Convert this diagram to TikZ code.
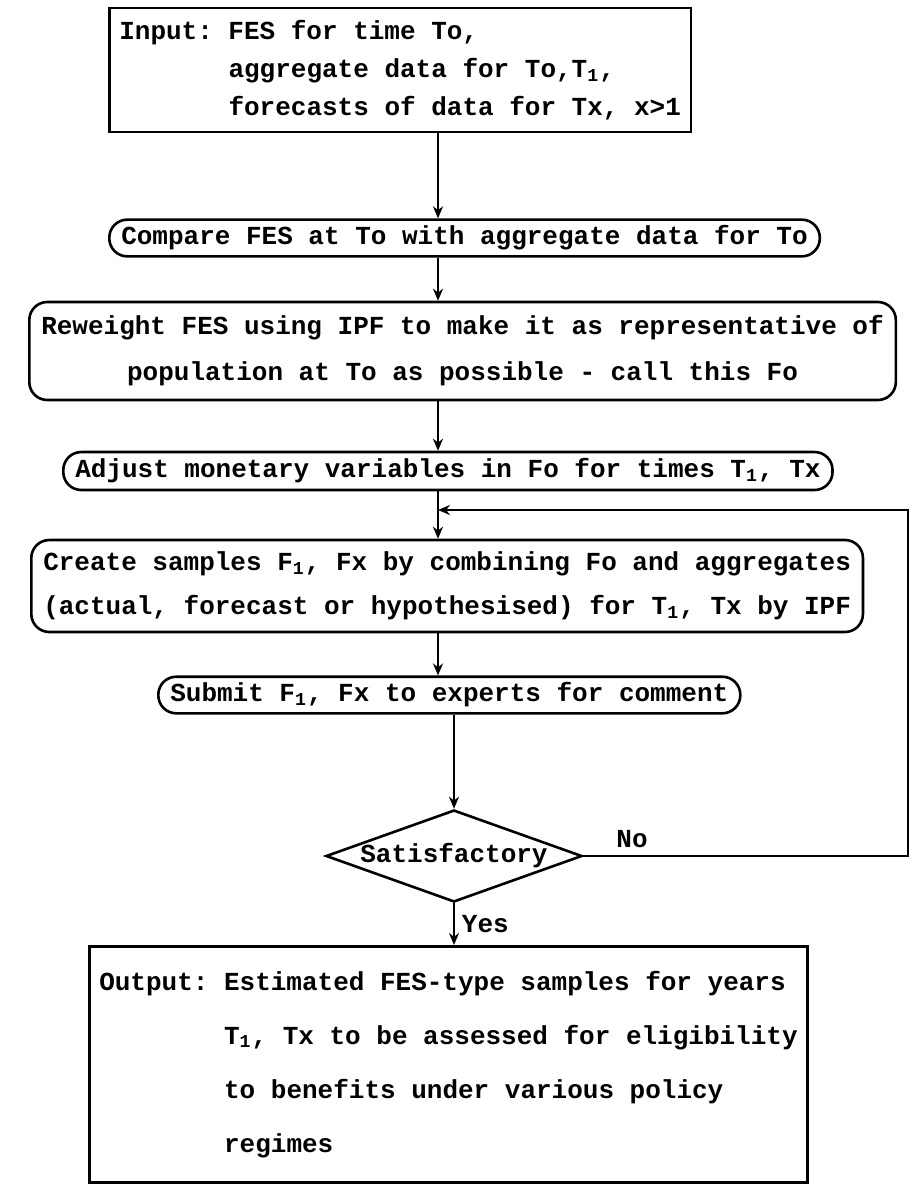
\documentclass[tikz,border=0pt]{standalone}
\usepackage{fontspec}
\setmonofont{Liberation Mono}
\usetikzlibrary{shapes.geometric,arrows.meta}

\tikzset{
  every node/.style={font=\ttfamily\bfseries\fontsize{13}{19}\selectfont},
  sqbox/.style={draw, line width=1.3pt, align=left, inner xsep=5pt, inner ysep=6pt},
  rdbox/.style={draw, line width=1.3pt, rounded corners=9pt, inner xsep=6pt, inner ysep=3pt, anchor=west},
  decision/.style={draw, diamond, aspect=2.8, line width=1.3pt, inner sep=0pt, minimum width=128pt, minimum height=46pt},
  flow/.style={line width=1.3pt, -{Stealth[length=6pt,width=5pt]}},
}

\begin{document}
\begin{tikzpicture}[x=0.5pt,y=-0.5pt]
  \useasboundingbox (0,0) rectangle (909,1191);

  \node[sqbox, anchor=west, minimum height=58pt] (input) at (108,70)
    {Input: FES for time To,\\
     \hphantom{Input: }aggregate data for To,T\textsubscript{1},\\
     \hphantom{Input: }forecasts of data for Tx, x>1};
  \node[rdbox, minimum height=18pt] (compare) at (108,238)
    {Compare FES at To with aggregate data for To};
  \node[rdbox, align=center, minimum height=49pt] (reweight) at (28,351)
    {Reweight FES using IPF to make it as representative of\\[4pt]
     population at To as possible - call this Fo};
  \node[rdbox, minimum height=19pt] (adjust) at (62,471)
    {Adjust monetary variables in Fo for times T\textsubscript{1}, Tx};
  \node[rdbox, align=left, minimum height=46pt] (create) at (30,586)
    {Create samples F\textsubscript{1}, Fx by combining Fo and aggregates\\[3pt]
     (actual, forecast or hypothesised) for T\textsubscript{1}, Tx by IPF};
  \node[rdbox, minimum height=18pt] (submit) at (157,695)
    {Submit F\textsubscript{1}, Fx to experts for comment};
  \node[decision] (sat) at (454,856) {Satisfactory};
  \node[sqbox, anchor=north west, minimum height=118pt] (output) at (88,945)
    {Output: Estimated FES-type samples for years\\[8pt]
     \hphantom{Output: }T\textsubscript{1}, Tx to be assessed for eligibility\\[8pt]
     \hphantom{Output: }to benefits under various policy\\[8pt]
     \hphantom{Output: }regimes};

  \coordinate (axis) at (438,0);
  \coordinate (join) at (438,510);
  \coordinate (back) at (908,510);

  \draw[flow] (input.south -| axis) -- (compare.north -| axis);
  \draw[flow] (compare.south -| axis) -- (reweight.north -| axis);
  \draw[flow] (reweight.south -| axis) -- (adjust.north -| axis);
  \draw[flow] (adjust.south -| axis) -- (create.north -| axis);
  \draw[flow] (create.south -| axis) -- (submit.north -| axis);
  \draw[flow] (submit.south -| sat.north) -- (sat.north);
  \draw[flow] (sat.south) -- node[right] {Yes} (output.north -| sat.south);
  % retry loop
  \draw[flow] (sat.east) -- node[above, pos=0.15] {No} (sat.east -| back) -- (back) -- (join);
\end{tikzpicture}
\end{document}
